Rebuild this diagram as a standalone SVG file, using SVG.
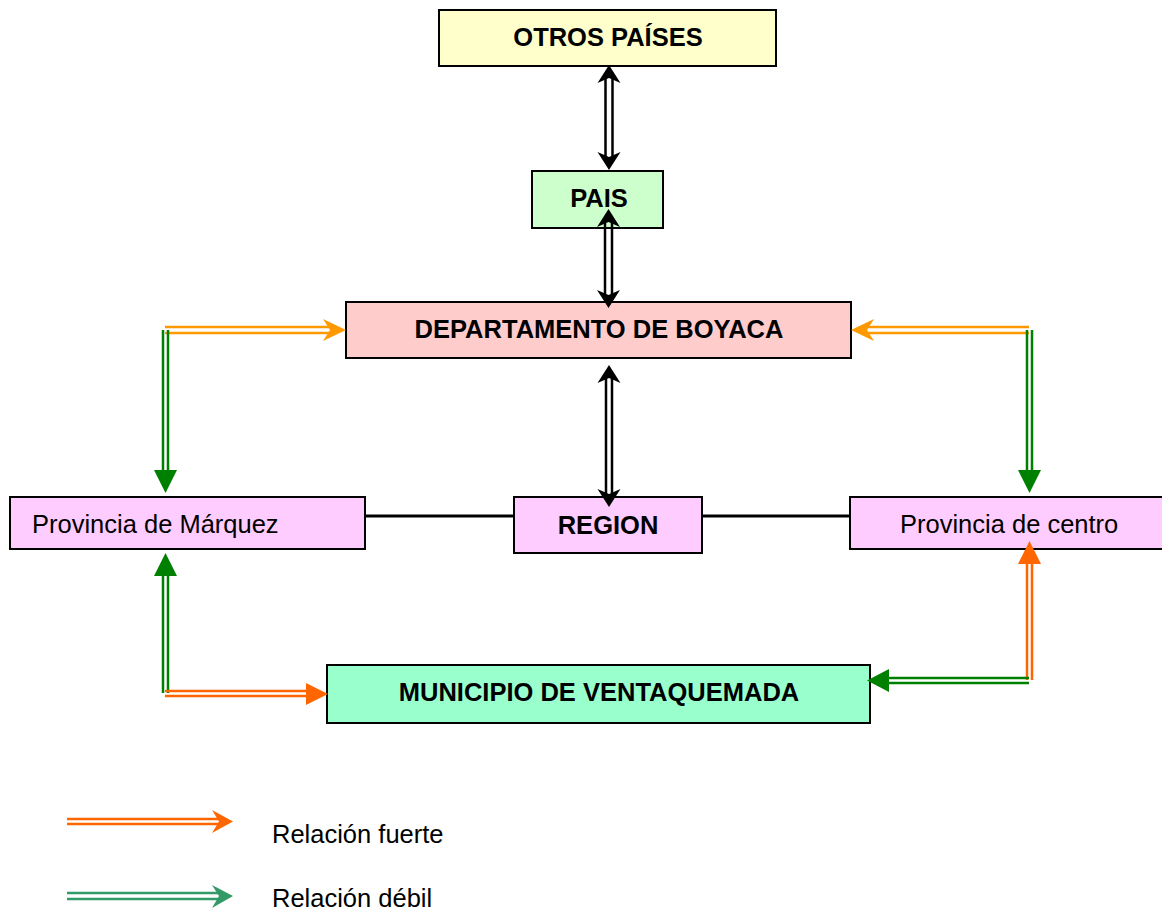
<svg xmlns="http://www.w3.org/2000/svg" width="1162" height="913" viewBox="0 0 1162 913">
<style>
.box{stroke:#000;stroke-width:2}
.b{font-family:"Liberation Sans",Arial,sans-serif;font-weight:bold;font-size:25.5px;text-anchor:middle;fill:#000}
.r{font-family:"Liberation Sans",Arial,sans-serif;font-size:25.5px;fill:#000}
.k{stroke:#000;stroke-width:2.5;fill:none}
.kh{fill:#000}
.lo{stroke:#FF9900;stroke-width:2.5;fill:none}
.loh{fill:#FF9900}
.do{stroke:#FF6600;stroke-width:2.5;fill:none}
.doh{fill:#FF6600}
.g{stroke:#008000;stroke-width:2.5;fill:none}
.gh{fill:#008000}
.lg{stroke:#339966;stroke-width:2.5;fill:none}
.lgh{fill:#339966}
.line{stroke:#000;stroke-width:3}
</style>
<rect width="1162" height="913" fill="#fff"/>
<g id="otros-paises">
  <rect class="box" x="439" y="10" width="337" height="56" fill="#FFFFCC"/>
  <text class="b" x="608" y="46">OTROS PAÍSES</text>
</g>
<g id="pais">
  <rect class="box" x="532" y="171" width="131" height="57" fill="#CCFFCC"/>
  <text class="b" x="599" y="207">PAIS</text>
</g>
<g id="departamento">
  <rect class="box" x="346" y="302" width="505" height="56" fill="#FFCCCC"/>
  <text class="b" x="599" y="338">DEPARTAMENTO DE BOYACA</text>
</g>
<g id="provincia-marquez">
  <rect class="box" x="10" y="497" width="355" height="52" fill="#FFCCFF"/>
  <text class="r" x="32" y="533">Provincia de Márquez</text>
</g>
<g id="region">
  <rect class="box" x="514" y="497" width="188" height="56" fill="#FFCCFF"/>
  <text class="b" x="608" y="534">REGION</text>
</g>
<g id="provincia-centro">
  <rect class="box" x="850" y="497" width="316" height="52" fill="#FFCCFF"/>
  <text class="r" x="900" y="533">Provincia de centro</text>
</g>
<g id="municipio">
  <rect class="box" x="327" y="665" width="543" height="58" fill="#99FFCC"/>
  <text class="b" x="599" y="701">MUNICIPIO DE VENTAQUEMADA</text>
</g>
<g id="connectors">
  <line class="line" x1="366" y1="516" x2="513" y2="516"/>
  <line class="line" x1="703" y1="516" x2="849" y2="516"/>
  <!-- OTROS <-> PAIS -->
  <path class="k" d="M605.5 75V160M612.5 75V160"/>
  <path class="kh" d="M609 65L620.5 83L609 78L597.5 83Z"/>
  <path class="kh" d="M609 170L620.5 152L609 157L597.5 152Z"/>
  <!-- PAIS <-> DEP -->
  <path class="k" d="M605 219V298M612 219V298"/>
  <path class="kh" d="M608.5 209L620 227L608.5 222L597 227Z"/>
  <path class="kh" d="M608.5 308L620 290L608.5 295L597 290Z"/>
  <!-- DEP <-> REGION -->
  <path class="k" d="M606 375V497M612 375V497"/>
  <path class="kh" d="M609 365L620.5 383L609 378L597.5 383Z"/>
  <path class="kh" d="M609 507L620.5 489L609 494L597.5 489Z"/>
  <!-- left top orange -->
  <path class="lo" d="M165 327H335M165 333H335"/>
  <path class="loh" d="M346 330L323 319L330 330L323 341Z"/>
  <!-- left green down -->
  <path class="g" d="M163 330V474M168 330V474"/>
  <path class="gh" d="M154 470H177L165.5 493Z"/>
  <!-- right top orange -->
  <path class="lo" d="M1029 327H862M1029 333H862"/>
  <path class="loh" d="M851 330L874 319L867 330L874 341Z"/>
  <!-- right green down -->
  <path class="g" d="M1027 330V474M1032 330V474"/>
  <path class="gh" d="M1018 470H1041L1029.5 493Z"/>
  <!-- bottom left green up -->
  <path class="g" d="M163 693V573M168 693V573"/>
  <path class="gh" d="M154 576H177L165.5 553Z"/>
  <!-- bottom left orange right -->
  <path class="do" d="M165 691H309M165 696H309"/>
  <path class="doh" d="M306 683V705L328 694Z"/>
  <!-- bottom right orange up -->
  <path class="do" d="M1027 680V561M1032 680V561"/>
  <path class="doh" d="M1018 564H1041L1029.5 541Z"/>
  <!-- bottom right green left -->
  <path class="g" d="M1029 678H886M1029 683H886"/>
  <path class="gh" d="M889 669V692L867 680.5Z"/>
</g>
<g id="legend">
  <path class="do" d="M67 819H220M67 824H220"/>
  <path class="doh" d="M233 821.5L212 810L219 821.5L212 833Z"/>
  <text class="r" x="272" y="843">Relación fuerte</text>
  <path class="lg" d="M67 893H220M67 899H220"/>
  <path class="lgh" d="M233 896L212 885L219 896L212 908Z"/>
  <text class="r" x="272" y="907">Relación débil</text>
</g>
</svg>
